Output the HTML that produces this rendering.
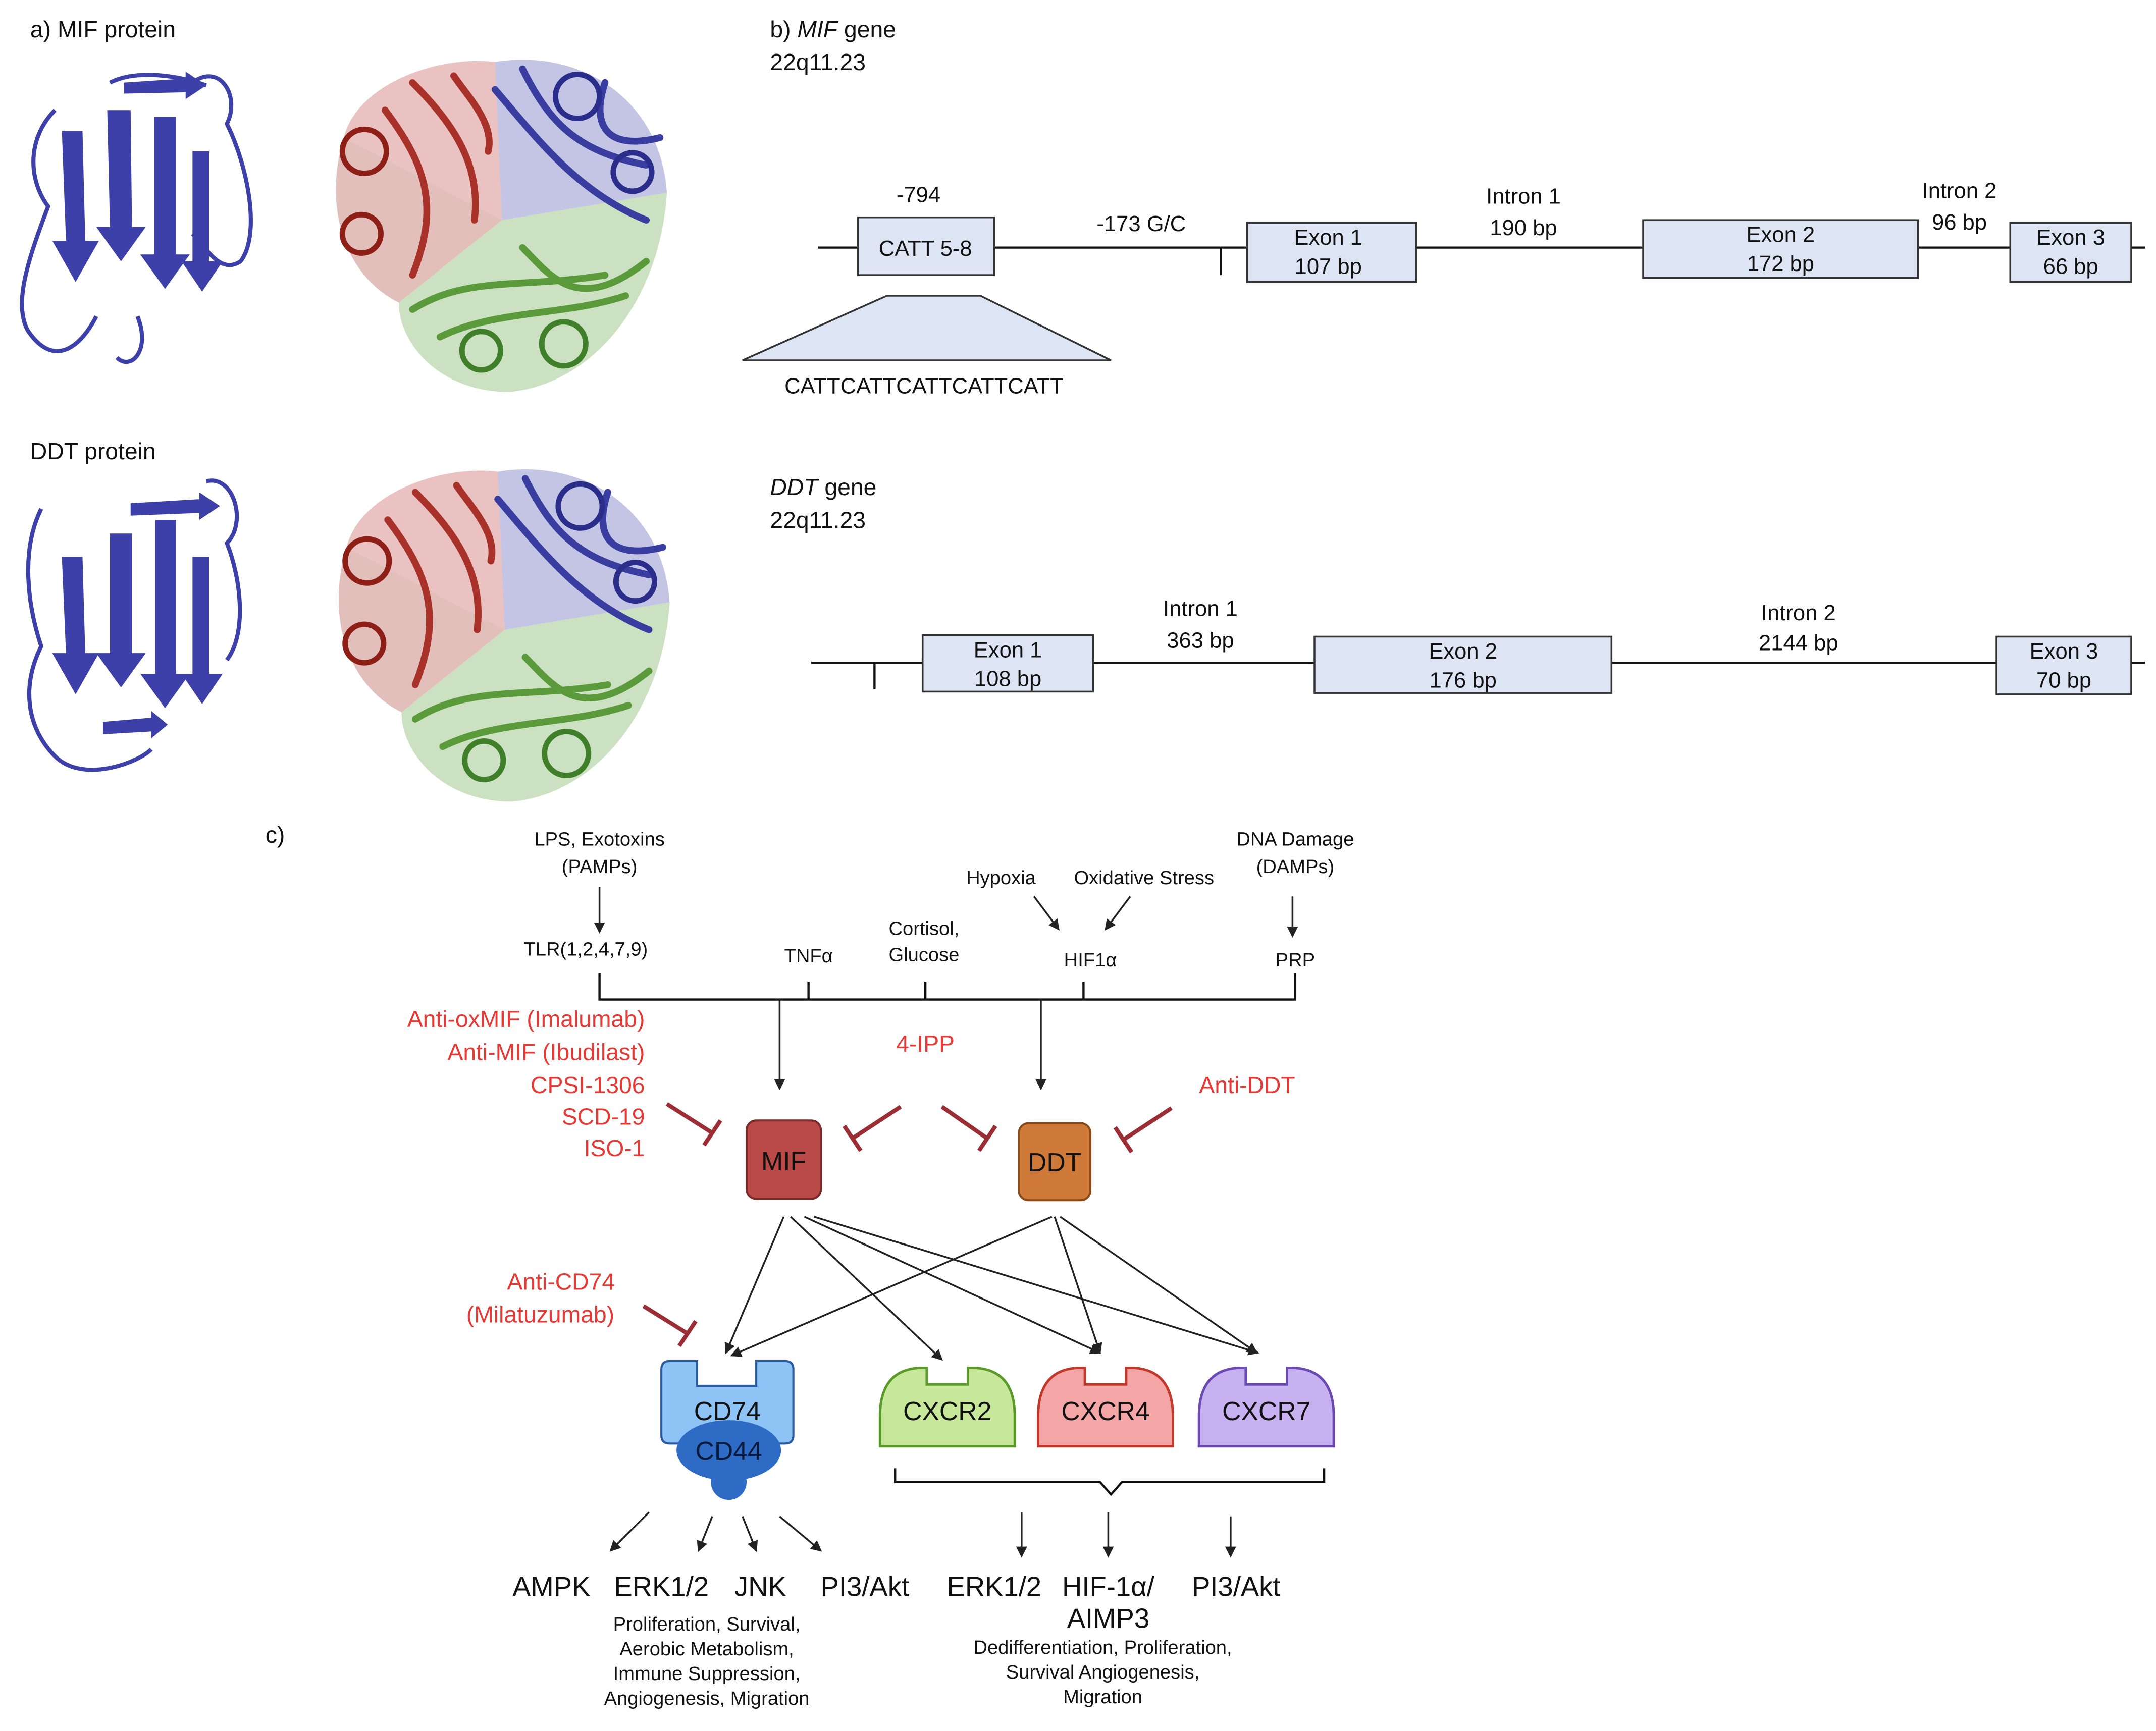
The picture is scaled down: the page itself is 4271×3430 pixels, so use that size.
<!DOCTYPE html>
<html><head><meta charset="utf-8"><style>
html,body{margin:0;padding:0;background:#fff}
svg{display:block}
text{font-family:"Liberation Sans",Arial,sans-serif;fill:#111}
.r{fill:#e53935}
.ex{fill:#dde4f3;stroke:#333;stroke-width:1.3}
.ln{stroke:#111;stroke-width:1.6;fill:none}
.ar{stroke:#222;stroke-width:1.3;fill:none;marker-end:url(#ah)}
.inh{stroke:#9b2d35;stroke-width:3;fill:none}
</style></head><body>
<svg width="4271" height="3430" viewBox="0 0 1568 1259" xmlns="http://www.w3.org/2000/svg">
<defs>
<marker id="ah" markerWidth="8" markerHeight="8" refX="7" refY="4" orient="auto" markerUnits="userSpaceOnUse"><path d="M0,0 L8,4 L0,8 z" fill="#222"/></marker>
<g id="tri">
<path d="M365,160 L250,100 C260,60 320,40 360,45 Z" fill="#c0504d" opacity="0.35"/>
<path d="M365,160 L250,100 C235,150 250,200 290,220 Z" fill="#a32a22" opacity="0.3"/>
<path d="M365,160 L360,45 C420,35 480,70 485,140 Z" fill="#3d40a8" opacity="0.3"/>
<path d="M365,160 L485,140 C480,220 430,280 370,285 C320,285 290,250 290,220 Z" fill="#6aa84f" opacity="0.35"/>
<g fill="none" stroke-width="5" stroke-linecap="round">
<path d="M300,60 C330,90 350,120 345,160 M280,80 C310,120 320,150 300,200 M330,55 C340,70 360,90 355,110" stroke="#a8322a"/>
<path d="M380,50 C400,90 420,110 470,120 M360,65 C390,100 420,140 470,160 M440,60 C430,90 440,110 480,100" stroke="#3a3da0"/>
<path d="M300,225 C340,200 380,210 440,200 M320,245 C360,225 410,230 455,215 M380,180 C400,200 420,230 470,190" stroke="#5a9a3a"/>
</g>
<g fill="none" stroke-width="4">
<circle cx="265" cy="110" r="16" stroke="#8e1f17"/><circle cx="263" cy="170" r="14" stroke="#8e1f17"/>
<circle cx="420" cy="70" r="16" stroke="#2a2d8a"/><circle cx="460" cy="125" r="14" stroke="#2a2d8a"/>
<circle cx="350" cy="255" r="14" stroke="#3f7f2a"/><circle cx="410" cy="250" r="16" stroke="#3f7f2a"/>
</g>
</g>
</defs>
<rect width="1568" height="1259" fill="#fff"/>

<!-- a) proteins -->
<text x="22" y="27" font-size="17">a) MIF protein</text>
<text x="22" y="334" font-size="17">DDT protein</text>
<g fill="none" stroke="#3d40a8" stroke-width="3">
<path d="M40,80 C20,100 20,130 35,150 C20,190 10,220 20,240 C40,270 60,250 70,230 M100,230 C110,255 95,270 85,260"/>
<path d="M140,60 C160,45 175,70 165,90 C180,120 190,170 175,190 C160,200 150,180 140,170"/>
<path d="M80,60 C100,50 130,55 150,62"/>
<path d="M30,370 C15,400 20,440 30,470 C15,500 20,530 40,550 C60,570 100,555 110,545"/>
<path d="M150,350 C170,345 180,380 165,395 C175,420 180,460 165,480"/>
</g>
<g fill="#3d40a8">
<polygon points="45,95 60,95 62,175 72,175 55,205 38,175 48,175"/>
<polygon points="78,80 95,80 96,165 106,165 88,190 70,165 80,165"/>
<polygon points="112,85 128,85 128,185 138,185 120,210 102,185 112,185"/>
<polygon points="140,110 152,110 152,190 162,190 147,212 132,190 140,190"/>
<polygon points="90,60 135,57 135,52 150,62 135,72 135,67 90,68"/>
<polygon points="45,405 60,405 62,475 72,475 55,505 38,475 48,475"/>
<polygon points="80,388 96,388 96,475 106,475 88,500 70,475 80,475"/>
<polygon points="113,378 128,378 128,490 138,490 120,515 102,490 113,490"/>
<polygon points="140,405 152,405 152,490 162,490 147,512 132,490 140,490"/>
<polygon points="95,366 145,363 145,358 160,368 145,378 145,373 95,375"/>
<polygon points="75,525 110,522 110,517 122,527 110,537 110,532 75,534"/>
</g>
<use href="#tri"/>
<use href="#tri" transform="translate(2,298)"/>

<!-- b) MIF gene -->
<text x="560" y="27" font-size="17">b) <tspan font-style="italic">MIF</tspan> gene</text>
<text x="560" y="51" font-size="17">22q11.23</text>
<line class="ln" x1="595" y1="180" x2="1560" y2="180"/>
<line class="ln" x1="888" y1="180" x2="888" y2="200"/>
<rect class="ex" x="624" y="158" width="99" height="42"/>
<text x="673" y="186" font-size="16" text-anchor="middle">CATT 5-8</text>
<text x="668" y="147" font-size="16" text-anchor="middle">-794</text>
<text x="830" y="168" font-size="16" text-anchor="middle">-173 G/C</text>
<rect class="ex" x="907" y="162" width="123" height="43"/>
<text x="966" y="178" font-size="16" text-anchor="middle">Exon 1</text><text x="966" y="199" font-size="16" text-anchor="middle">107 bp</text>
<text x="1108" y="148" font-size="16" text-anchor="middle">Intron 1</text><text x="1108" y="171" font-size="16" text-anchor="middle">190 bp</text>
<rect class="ex" x="1195" y="160" width="200" height="42"/>
<text x="1295" y="176" font-size="16" text-anchor="middle">Exon 2</text><text x="1295" y="197" font-size="16" text-anchor="middle">172 bp</text>
<text x="1425" y="144" font-size="16" text-anchor="middle">Intron 2</text><text x="1425" y="167" font-size="16" text-anchor="middle">96 bp</text>
<rect class="ex" x="1462" y="162" width="88" height="43"/>
<text x="1506" y="178" font-size="16" text-anchor="middle">Exon 3</text><text x="1506" y="199" font-size="16" text-anchor="middle">66 bp</text>
<polygon points="645,215 713,215 808,262 540,262" class="ex"/>
<text x="672" y="286" font-size="16" text-anchor="middle">CATTCATTCATTCATTCATT</text>

<!-- DDT gene -->
<text x="560" y="360" font-size="17"><tspan font-style="italic">DDT</tspan> gene</text>
<text x="560" y="384" font-size="17">22q11.23</text>
<line class="ln" x1="590" y1="482" x2="1560" y2="482"/>
<line class="ln" x1="636" y1="482" x2="636" y2="501"/>
<rect class="ex" x="671" y="462" width="124" height="41"/>
<text x="733" y="478" font-size="16" text-anchor="middle">Exon 1</text><text x="733" y="499" font-size="16" text-anchor="middle">108 bp</text>
<text x="873" y="448" font-size="16" text-anchor="middle">Intron 1</text><text x="873" y="471" font-size="16" text-anchor="middle">363 bp</text>
<rect class="ex" x="956" y="463" width="216" height="41"/>
<text x="1064" y="479" font-size="16" text-anchor="middle">Exon 2</text><text x="1064" y="500" font-size="16" text-anchor="middle">176 bp</text>
<text x="1308" y="451" font-size="16" text-anchor="middle">Intron 2</text><text x="1308" y="473" font-size="16" text-anchor="middle">2144 bp</text>
<rect class="ex" x="1452" y="463" width="98" height="42"/>
<text x="1501" y="479" font-size="16" text-anchor="middle">Exon 3</text><text x="1501" y="500" font-size="16" text-anchor="middle">70 bp</text>

<!-- c) pathway -->
<text x="193" y="613" font-size="17">c)</text>
<g font-size="14" text-anchor="middle">
<text x="436" y="615">LPS, Exotoxins</text><text x="436" y="635">(PAMPs)</text>
<text x="426" y="695">TLR(1,2,4,7,9)</text>
<text x="588" y="700">TNFα</text>
<text x="672" y="680">Cortisol,</text><text x="672" y="699">Glucose</text>
<text x="728" y="643">Hypoxia</text><text x="832" y="643">Oxidative Stress</text>
<text x="793" y="703">HIF1α</text>
<text x="942" y="615">DNA Damage</text><text x="942" y="635">(DAMPs)</text>
<text x="942" y="703">PRP</text>
</g>
<line class="ar" x1="436" y1="645" x2="436" y2="678"/>
<line class="ar" x1="752" y1="652" x2="770" y2="676"/>
<line class="ar" x1="822" y1="652" x2="804" y2="676"/>
<line class="ar" x1="940" y1="652" x2="940" y2="681"/>
<path class="ln" d="M436,708 V727 H942 V708 M588,714 V727 M673,714 V727 M788,714 V727" stroke-width="1.3"/>
<line class="ar" x1="567" y1="727" x2="567" y2="792"/>
<line class="ar" x1="757" y1="727" x2="757" y2="792"/>

<g font-size="17" class="r" text-anchor="end">
<text x="469" y="747" class="r">Anti-oxMIF (Imalumab)</text>
<text x="469" y="771" class="r">Anti-MIF (Ibudilast)</text>
<text x="469" y="795" class="r">CPSI-1306</text>
<text x="469" y="818" class="r">SCD-19</text>
<text x="469" y="841" class="r">ISO-1</text>
</g>
<text x="673" y="765" font-size="17" class="r" text-anchor="middle">4-IPP</text>
<text x="907" y="795" font-size="17" class="r" text-anchor="middle">Anti-DDT</text>
<text x="408" y="938" font-size="17" class="r" text-anchor="middle">Anti-CD74</text>
<text x="393" y="962" font-size="17" class="r" text-anchor="middle">(Milatuzumab)</text>
<path class="inh" d="M485,803 L518,824 M512,833 L524,815"/>
<path class="inh" d="M655,805 L620,828 M614,819 L626,837"/>
<path class="inh" d="M685,805 L718,828 M712,837 L724,819"/>
<path class="inh" d="M852,806 L817,829 M811,820 L823,838"/>
<path class="inh" d="M468,950 L500,970 M494,979 L506,961"/>

<rect x="543" y="815" width="54" height="57" rx="7" fill="#b94a48" stroke="#7a2a28" stroke-width="1.5"/>
<text x="570" y="851" font-size="19" text-anchor="middle">MIF</text>
<rect x="741" y="817" width="52" height="56" rx="7" fill="#d07a3a" stroke="#8a4a1a" stroke-width="1.5"/>
<text x="767" y="852" font-size="19" text-anchor="middle">DDT</text>

<line class="ar" x1="570" y1="885" x2="528" y2="984"/>
<line class="ar" x1="575" y1="885" x2="685" y2="989"/>
<line class="ar" x1="585" y1="885" x2="800" y2="984"/>
<line class="ar" x1="592" y1="885" x2="915" y2="984"/>
<line class="ar" x1="765" y1="885" x2="532" y2="986"/>
<line class="ar" x1="767" y1="885" x2="800" y2="984"/>
<line class="ar" x1="771" y1="885" x2="914" y2="984"/>

<!-- receptors -->
<path d="M487,990 H507 V1008 H550 V990 H571 Q577,990 577,996 V1044 Q577,1050 571,1050 H487 Q481,1050 481,1044 V996 Q481,990 487,990 Z" fill="#8ec3f5" stroke="#2a5aa0" stroke-width="1.5"/>
<text x="529" y="1033" font-size="19" text-anchor="middle">CD74</text>
<circle cx="530" cy="1078" r="13" fill="#2e6bc4"/>
<ellipse cx="530" cy="1055" rx="38" ry="22" fill="#2e6bc4"/>
<text x="530" y="1062" font-size="19" text-anchor="middle" style="fill:#0a1a3a">CD44</text>
<g stroke-width="1.8">
<path d="M640,1052 V1030 Q640,997 668,995 V995 H674 V1007 H704 V995 H710 Q738,997 738,1030 V1052 Z" fill="#c7e89a" stroke="#5a9a2a"/>
<path d="M755,1052 V1030 Q755,997 783,995 H789 V1007 H819 V995 H825 Q853,997 853,1030 V1052 Z" fill="#f4a6a6" stroke="#c0392b"/>
<path d="M872,1052 V1030 Q872,997 900,995 H906 V1007 H936 V995 H942 Q970,997 970,1030 V1052 Z" fill="#c7b1f0" stroke="#6a4ab0"/>
</g>
<text x="689" y="1033" font-size="19" text-anchor="middle">CXCR2</text>
<text x="804" y="1033" font-size="19" text-anchor="middle">CXCR4</text>
<text x="921" y="1033" font-size="19" text-anchor="middle">CXCR7</text>
<path class="ln" d="M651,1068 V1078 H800 L808,1087 L816,1078 H963 V1068" stroke-width="1.3"/>

<line class="ar" x1="472" y1="1100" x2="444" y2="1128"/>
<line class="ar" x1="518" y1="1103" x2="508" y2="1128"/>
<line class="ar" x1="540" y1="1103" x2="550" y2="1128"/>
<line class="ar" x1="567" y1="1103" x2="597" y2="1128"/>
<line class="ar" x1="743" y1="1100" x2="743" y2="1132"/>
<line class="ar" x1="806" y1="1100" x2="806" y2="1132"/>
<line class="ar" x1="895" y1="1103" x2="895" y2="1132"/>
<g font-size="20" text-anchor="middle">
<text x="401" y="1161">AMPK</text><text x="481" y="1161">ERK1/2</text><text x="553" y="1161">JNK</text><text x="629" y="1161">PI3/Akt</text>
<text x="723" y="1161">ERK1/2</text><text x="806" y="1161">HIF-1α/</text><text x="806" y="1184">AIMP3</text><text x="899" y="1161">PI3/Akt</text>
</g>
<g font-size="14" text-anchor="middle">
<text x="514" y="1186">Proliferation, Survival,</text><text x="514" y="1204">Aerobic Metabolism,</text><text x="514" y="1222">Immune Suppression,</text><text x="514" y="1240">Angiogenesis, Migration</text>
<text x="802" y="1203">Dedifferentiation, Proliferation,</text><text x="802" y="1221">Survival Angiogenesis,</text><text x="802" y="1239">Migration</text>
</g>
</svg>
</body></html>
